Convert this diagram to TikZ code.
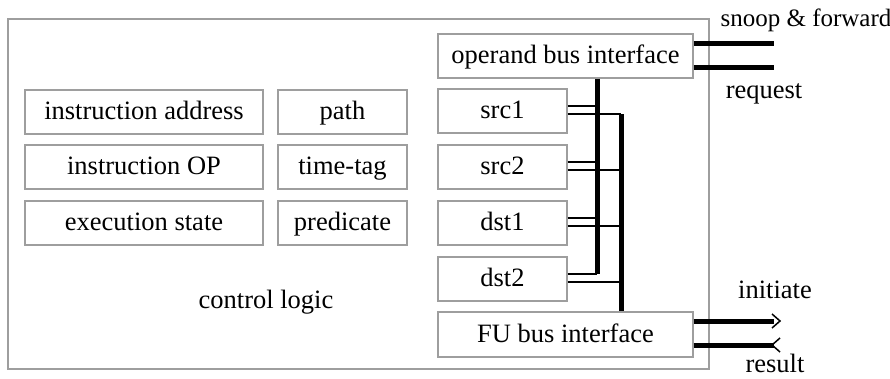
\documentclass[tikz,border=0pt]{standalone}
\usepackage{fontspec}
\setmainfont{Liberation Serif}
\begin{document}
\begin{tikzpicture}[x=1pt,y=-1pt,
  every node/.style={font=\fontsize{26.5}{30}\selectfont},
  reg/.style={draw=black!38, line width=1.3pt, inner sep=0pt, minimum height=44pt, text height=20pt, text depth=5pt},
  lbl/.style={inner sep=0pt, anchor=base},
  bus/.style={line width=5pt, line cap=butt},
  wire/.style={line width=1.5pt},
  chev/.style={line width=1.5pt}]
\useasboundingbox (0,0) rectangle (890,378);
\node[draw=black!38, line width=1.3pt, inner sep=0pt, minimum width=701pt, minimum height=350pt] (outer) at (358.5,194) {};
% left fields
\node[reg, minimum width=238pt] (ia) at (144,112) {instruction address};
\node[reg, minimum width=238pt] (iop) at (144,167) {instruction OP};
\node[reg, minimum width=238pt] (es) at (144,223) {execution state};
\node[reg, minimum width=129pt] (path) at (342.5,112) {path};
\node[reg, minimum width=129pt] (tt) at (342.5,167) {time-tag};
\node[reg, minimum width=129pt] (pred) at (342.5,223) {predicate};
\node[lbl] (cl) at (266,308) {control logic};
% right column
\node[reg, minimum width=255pt] (opb) at (565.5,56) {operand bus interface};
\node[reg, minimum width=129pt] (src1) at (502.5,111) {src1};
\node[reg, minimum width=129pt] (src2) at (502.5,167) {src2};
\node[reg, minimum width=129pt] (dst1) at (502.5,223) {dst1};
\node[reg, minimum width=129pt] (dst2) at (502.5,279) {dst2};
\node[reg, minimum width=255pt, minimum height=45pt] (fub) at (565.5,334.5) {FU bus interface};
% bus x positions
\coordinate (b1) at (597,0);
\coordinate (b2) at (621,0);
% wires
\foreach \r in {src1,src2,dst1,dst2}{
  \draw[wire] ([yshift=5pt]\r.east) -- ([yshift=5pt]\r.east -| b1);
  \draw[wire] ([yshift=-3pt]\r.east) -- ([yshift=-3pt]\r.east -| b2);
}
% buses
\draw[bus] (opb.south -| b1) -- ([yshift=5pt]dst2.east -| b1);
\draw[bus] ([yshift=-3pt]src1.east -| b2) -- (fub.north -| b2);
% external buses
\coordinate (e1) at (774,43);
\coordinate (e2) at (774,67);
\coordinate (e3) at (774,321);
\coordinate (e4) at (774,345);
\draw[bus] (opb.east |- e1) -- (e1);
\draw[bus] (opb.east |- e2) -- (e2);
\draw[bus] (fub.east |- e3) -- (e3);
\draw[bus] (fub.east |- e4) -- (e4);
\draw[chev] (772,314) -- (780,321) -- (772,328);
\draw[chev] (780,338) -- (772,345) -- (780,352);
% labels
\node[lbl, font=\fontsize{25}{30}\selectfont] (snoop) at (806,26) {snoop \& forward};
\node[lbl] (req) at (764,98) {request};
\node[lbl] (init) at (775,298) {initiate};
\node[lbl, text depth=0pt] (res) at (775,372) {result};
\end{tikzpicture}
\end{document}
